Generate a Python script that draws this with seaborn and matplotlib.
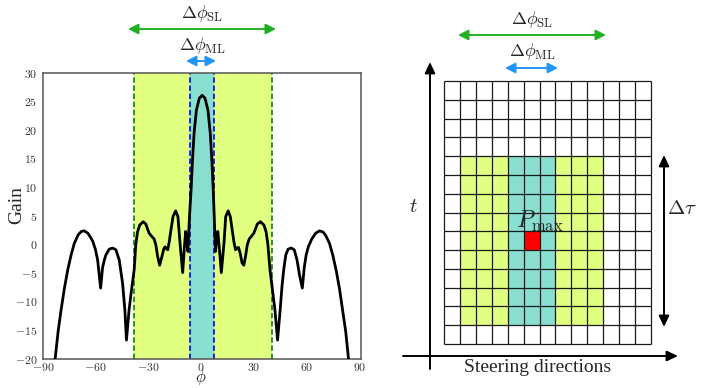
import numpy as np
import pandas as pd
import matplotlib
matplotlib.use("Agg")
import matplotlib.pyplot as plt
from matplotlib.colors import ListedColormap
from matplotlib.ticker import FuncFormatter, FixedLocator
import seaborn as sns

# ---------------- data ----------------
phi = [-85.5, -83.1, -81.4, -79.7, -77.8, -75.9, -74.0, -72.2, -70.0, -68.2,
       -66.5, -64.5, -62.8, -61.7, -60.2, -58.9, -58.0, -57.2, -56.1, -55.0,
       -54.2, -52.3, -50.4, -48.5, -46.6, -44.7, -43.4, -42.5, -41.0, -39.4,
       -38.1, -37.2, -36.2, -35.0, -33.0, -31.5, -29.6, -28.0, -26.8, -25.8,
       -24.8, -23.6, -22.4, -21.2, -20.5, -19.5, -19.0, -18.2, -17.3, -16.0,
       -14.5, -13.2, -12.0, -10.5, -9.5, -8.8, -8.1, -7.5, -7.0, -6.5,
       -5.65, -4.9, -4.0, -2.7, -1.0, 0.6, 2.2, 3.9, 5.2, 6.1,
       6.85, 7.4, 7.8, 8.2, 8.8, 9.5, 10.3, 11.5, 13.0, 14.0,
       15.4, 16.6, 17.8, 18.7, 19.6, 20.5, 21.3, 22.3, 23.3, 24.3,
       25.3, 26.3, 27.4, 28.5, 30.0, 32.0, 33.8, 35.8, 37.0, 38.0,
       39.2, 40.4, 42.0, 43.5, 45.0, 46.0, 47.0, 48.2, 49.5, 51.2,
       53.0, 54.6, 56.0, 57.6, 58.7, 59.8, 61.0, 63.0, 65.2, 67.4,
       69.4, 70.9, 73.1, 74.9, 76.8, 78.7, 80.5, 82.3, 83.9, 85.5]
gain = [-23.5, -20.0, -15.2, -11.4, -7.6, -4.4, -1.8, 0.2, 1.7, 2.3,
        2.4, 2.0, 1.2, 0.6, -0.8, -2.7, -5.3, -7.6, -4.0, -2.6,
        -1.8, -0.8, -0.6, -0.9, -2.7, -6.8, -11.4, -16.7, -11.4, -7.4,
        -4.4, 0.0, 2.2, 3.4, 4.0, 3.6, 2.0, 1.4, 1.0, 0.0,
        -2.0, -3.6, -2.2, -0.7, -0.4, -0.8, -0.9, 0.4, 2.3, 4.9,
        5.9, 4.9, 0.2, -4.9, -0.4, 2.3, 1.0, -1.2, 2.5, 5.5,
        9.9, 14.8, 19.5, 23.5, 25.6, 26.1, 25.6, 23.5, 19.5, 14.8,
        9.9, 5.5, 2.5, -1.2, 1.0, 2.3, -0.4, -4.9, 0.2, 4.9,
        5.9, 4.9, 2.3, 0.4, -0.9, -0.6, -0.5, -1.6, -3.2, -3.6,
        -2.0, 0.0, 1.0, 1.4, 2.0, 3.6, 4.0, 3.4, 2.2, 0.0,
        -4.4, -7.4, -11.4, -16.7, -11.4, -7.4, -4.4, -1.8, -0.8, -0.6,
        -0.9, -2.7, -5.3, -7.6, -4.0, -1.8, -0.4, 1.0, 2.0, 2.4,
        2.2, 1.6, 0.2, -1.8, -4.4, -7.6, -11.4, -15.2, -20.0, -23.5]

sidelobe_span = [-38.3, 40.2]     # Δφ_SL region (degrees)
mainlobe_span = [-6.5, 7.4]       # Δφ_ML region (degrees)
x_ticks = [-90, -60, -30, 0, 30, 60, 90]
y_ticks = [-20, -15, -10, -5, 0, 5, 10, 15, 20, 25, 30]

# schematic grid (right panel)
n_rows, n_cols = 14, 13
window_rows = [4, 12]       # rows covered by Δτ window
sidelobe_cols = [1, 9]
mainlobe_cols = [4, 6]
pmax_cell = [8, 5]          # (row, col)

# ---------------- style ----------------
sns.set_theme(style="white")
plt.rcParams["font.family"] = ["Liberation Serif", "DejaVu Serif"]
plt.rcParams["mathtext.fontset"] = "cm"

YELLOW = "#e1ff80"
TEAL = "#88dfcf"
RED = "#ff0000"
GREEN_ARROW = "#22b022"
BLUE_ARROW = "#2196f8"

W, H = 712, 388
fig = plt.figure(figsize=(W / 100, H / 100), dpi=100)

def fx(px):
    return px / W

def fy(py):
    return 1 - py / H

# ---------------- left panel ----------------
ax = fig.add_axes([fx(43), fy(359), fx(361) - fx(43), fy(73) - fy(359)])
ax.axvspan(sidelobe_span[0], sidelobe_span[1], color=YELLOW, lw=0, zorder=0)
ax.axvspan(mainlobe_span[0], mainlobe_span[1], color=TEAL, lw=0, zorder=0.5)
for xv in sidelobe_span:
    ax.axvline(xv, color="#1a8f1a", ls=(0, (3, 1.5)), lw=1.3, zorder=1)
for xv in mainlobe_span:
    ax.axvline(xv, color="#1010e8", ls=(0, (3, 1.5)), lw=1.3, zorder=1)

df = pd.DataFrame({"phi": phi, "gain": gain})
sns.lineplot(data=df, x="phi", y="gain", sort=False, estimator=None,
             color="black", lw=2.0, ax=ax, zorder=3)
ax.set_xlim(-90, 91)
ax.set_ylim(-20, 30)
ax.xaxis.set_major_locator(FixedLocator(x_ticks))
ax.yaxis.set_major_locator(FixedLocator(y_ticks))
fmt = FuncFormatter(lambda v, p: r"$%d$" % v)
ax.xaxis.set_major_formatter(fmt)
ax.yaxis.set_major_formatter(fmt)
ax.tick_params(axis="both", length=0, labelsize=8.5, colors="#333333")
ax.tick_params(axis="x", pad=2)
ax.tick_params(axis="y", pad=4)
ax.set_xlabel("")
ax.set_ylabel("")
for s in ax.spines.values():
    s.set_visible(True)
    s.set_color("#555555")
    s.set_linewidth(1.1)

# ---------------- right panel: grid ----------------
mat = np.zeros((n_rows, n_cols))
mat[window_rows[0]:window_rows[1] + 1, sidelobe_cols[0]:sidelobe_cols[1] + 1] = 1
mat[window_rows[0]:window_rows[1] + 1, mainlobe_cols[0]:mainlobe_cols[1] + 1] = 2
mat[pmax_cell[0], pmax_cell[1]] = 3

ax2 = fig.add_axes([fx(443.7), fy(344), fx(651.3) - fx(443.7), fy(81) - fy(344)])
sns.heatmap(mat, cmap=ListedColormap(["white", YELLOW, TEAL, RED]),
            vmin=-0.5, vmax=3.5, cbar=False, linewidths=0,
            xticklabels=False, yticklabels=False, ax=ax2)
ax2.grid(False)
ax2.set_xticks([])
ax2.set_yticks([])
ax2.vlines(np.arange(n_cols + 1), 0, n_rows, color="#1a1a1a", lw=0.9, clip_on=False)
ax2.hlines(np.arange(n_rows + 1), 0, n_cols, color="#1a1a1a", lw=0.9, clip_on=False)
for s in ax2.spines.values():
    s.set_visible(False)

# ---------------- overlay for annotations ----------------
ov = fig.add_axes([0, 0, 1, 1], zorder=10)
ov.set_xlim(0, W)
ov.set_ylim(H, 0)
ov.axis("off")
ov.patch.set_alpha(0)

def darrow(x0, x1, y, color, lw=1.4, ms=11):
    ov.annotate("", xy=(x1, y), xytext=(x0, y),
                arrowprops=dict(arrowstyle="<|-|>,head_length=0.55,head_width=0.28",
                                color=color, lw=lw, shrinkA=0, shrinkB=0,
                                mutation_scale=ms))

def sarrow(x0, y0, x1, y1, color="black", lw=1.4, ms=11):
    ov.annotate("", xy=(x1, y1), xytext=(x0, y0),
                arrowprops=dict(arrowstyle="-|>,head_length=0.6,head_width=0.28",
                                color=color, lw=lw, shrinkA=0, shrinkB=0,
                                mutation_scale=ms))

TS = 13
# left panel annotations
darrow(128, 276, 29, GREEN_ARROW)
ov.text(202, 14, r"$\Delta\phi_{\mathrm{SL}}$", ha="center", va="center", fontsize=TS)
darrow(186, 216, 61, BLUE_ARROW)
ov.text(202, 46, r"$\Delta\phi_{\mathrm{ML}}$", ha="center", va="center", fontsize=TS)
ov.text(17, 205, "Gain", rotation=90, ha="center", va="center", fontsize=14)
ov.text(201, 387, r"$\phi$", ha="center", va="bottom", fontsize=12)

# right panel annotations
darrow(458, 606, 35, GREEN_ARROW)
ov.text(532, 19, r"$\Delta\phi_{\mathrm{SL}}$", ha="center", va="center", fontsize=TS)
darrow(505, 558, 68, BLUE_ARROW)
ov.text(532, 51, r"$\Delta\phi_{\mathrm{ML}}$", ha="center", va="center", fontsize=TS)
sarrow(430, 369, 430, 62)
sarrow(403, 356, 678, 356)
ov.text(538, 368, "Steering directions", ha="center", va="center", fontsize=14)
ov.text(413, 208, r"$t$", ha="center", va="center", fontsize=15)
ov.annotate("", xy=(664, 155), xytext=(664, 327),
            arrowprops=dict(arrowstyle="<|-|>,head_length=0.6,head_width=0.28",
                            color="black", lw=1.4, shrinkA=0, shrinkB=0,
                            mutation_scale=11))
ov.text(682, 210, r"$\Delta\tau$", ha="center", va="center", fontsize=15)
ov.text(540, 221, r"$P_{\max}$", ha="center", va="center", fontsize=17)

fig.savefig("out.png", dpi=100)
